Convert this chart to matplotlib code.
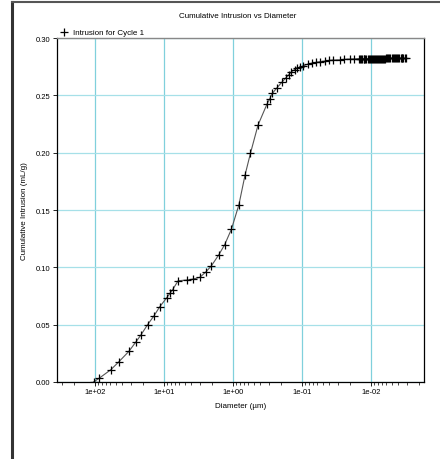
import numpy as np
import matplotlib.pyplot as plt
from matplotlib.lines import Line2D

plt.rcParams['font.family'] = ['Liberation Sans', 'DejaVu Sans']

# pore diameter (um) and cumulative intrusion (mL/g), cycle 1
diameter = [105, 87, 59, 45, 32.2, 25.8, 21.6, 17.3, 14.0, 11.5, 9.17, 8.2, 7.5,
            6.24, 4.6, 3.78, 3.02, 2.45, 2.05, 1.61, 1.32, 1.05, 0.82, 0.668,
            0.558, 0.433, 0.321, 0.294, 0.268, 0.23, 0.195, 0.172, 0.155, 0.142,
            0.128, 0.118, 0.108, 0.095, 0.082, 0.072, 0.062, 0.054, 0.047, 0.041,
            0.0356, 0.0284, 0.0245, 0.0204, 0.0175,
            0.0147, 0.0142, 0.0137, 0.0133, 0.0128, 0.0124, 0.0120, 0.0116,
            0.0112, 0.0108, 0.0104, 0.0101, 0.0097, 0.0094, 0.0091, 0.0088,
            0.0085, 0.0082, 0.0079, 0.0076, 0.0074, 0.0071, 0.0069, 0.0066,
            0.0064, 0.0062, 0.0060, 0.0058, 0.0056, 0.0054, 0.0052, 0.0050,
            0.0048, 0.0047, 0.0045, 0.0043, 0.0042, 0.0040, 0.0039, 0.0037,
            0.0036, 0.0035, 0.0034, 0.0032, 0.0031]
intrusion = [0.0, 0.0033, 0.0107, 0.0177, 0.0268, 0.0346, 0.041, 0.050, 0.0576,
             0.0657, 0.0733, 0.0773, 0.0805, 0.0883, 0.0890, 0.0898, 0.0913,
             0.0962, 0.1014, 0.1108, 0.1197, 0.1334, 0.1546, 0.1805, 0.1994,
             0.2241, 0.2424, 0.2468, 0.2518, 0.2566, 0.2615, 0.2651, 0.2680,
             0.2706, 0.2724, 0.2735, 0.2744, 0.2758, 0.2773, 0.2781, 0.2788,
             0.2794, 0.2799, 0.2804, 0.2808, 0.2810, 0.2814, 0.2817, 0.2818,
             0.2819, 0.2819, 0.2819, 0.2820, 0.2820, 0.2820, 0.2820, 0.2820,
             0.2820, 0.2820, 0.2821, 0.2821, 0.2821, 0.2821, 0.2821, 0.2821,
             0.2821, 0.2821, 0.2821, 0.2821, 0.2821, 0.2821, 0.2821, 0.2821,
             0.2821, 0.2821, 0.2822, 0.2822, 0.2822, 0.2822, 0.2822, 0.2822,
             0.2822, 0.2822, 0.2822, 0.2822, 0.2822, 0.2822, 0.2822, 0.2822,
             0.2822, 0.2822, 0.2822, 0.2822, 0.2822]
x_ticks = [1e2, 1e1, 1e0, 1e-1, 1e-2]
y_ticks = [0.00, 0.05, 0.10, 0.15, 0.20, 0.25, 0.30]

fig = plt.figure(figsize=(4.4, 4.6), dpi=100)
ax = fig.add_axes([0.1295, 0.1674, 0.8341, 0.7478])

ax.plot(diameter, intrusion, color='#555555', lw=0.8, zorder=2)
ax.plot(diameter, intrusion, ls='none', marker='+', ms=5.5, mew=0.9,
        color='black', zorder=3, label='Intrusion for Cycle 1')

ax.set_xscale('log')
ax.set_xlim(356, 0.0017)
ax.set_ylim(0, 0.30)
ax.set_xticks(x_ticks)
ax.set_xticklabels([f'{v:.0e}' for v in x_ticks])
ax.set_yticks(y_ticks)
ax.set_yticklabels([f'{v:.2f}' for v in y_ticks])
ax.tick_params(labelsize=5.5, length=3, width=0.6, pad=1.5)
ax.tick_params(which='minor', length=2, width=0.5)

ax.grid(True, axis='x', which='major', color='#80d0dc', lw=0.9, zorder=0)
ax.grid(True, axis='y', which='major', color='#a6e0e8', lw=0.9, zorder=0)
ax.set_axisbelow(True)
for s in ['left', 'bottom', 'right']:
    ax.spines[s].set_linewidth(0.9)
    ax.spines[s].set_color('black')
ax.spines['top'].set_color('#888888')
ax.spines['top'].set_linewidth(1.0)

ax.set_xlabel('Diameter (µm)', fontsize=5.8, labelpad=5)
ax.set_ylabel('Cumulative Intrusion (mL/g)', fontsize=5.8, labelpad=6)
fig.text(0.54, 0.965, 'Cumulative Intrusion vs Diameter', ha='center',
         va='center', fontsize=5.8)

ax.legend(loc='center left', bbox_to_anchor=(0.005, 1.016), frameon=False,
          fontsize=5.8, handlelength=1.2, handletextpad=0.6, borderpad=0,
          borderaxespad=0)

# page frame
fig.add_artist(Line2D([0.028, 0.028], [0, 0.9935], color='#333333', lw=2.2))
fig.add_artist(Line2D([0.027, 1.0], [0.9935, 0.9935], color='#555555', lw=1.5))

fig.savefig('out.png', dpi=100)
